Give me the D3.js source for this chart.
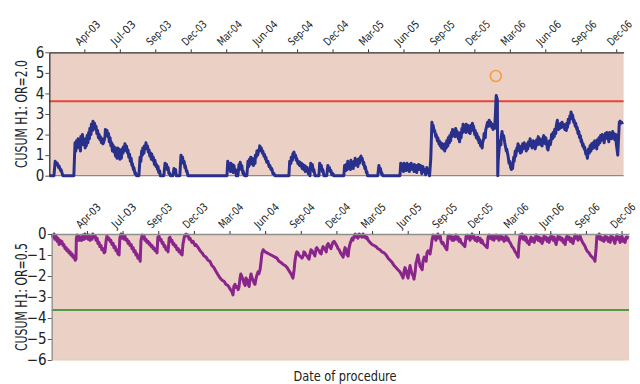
<!DOCTYPE html>
<html><head><meta charset="utf-8">
<script src="https://cdn.jsdelivr.net/npm/d3@7"></script>
<style>
html,body{margin:0;padding:0;background:#fff;}
svg{display:block;}
text{font-family:"Liberation Sans Narrow","Arial Narrow","DejaVu Sans Condensed",sans-serif;font-stretch:condensed;fill:#222;}
</style></head><body>
<svg id="chart" width="640" height="384"></svg>
<script>
// Procedure dates are stored as days since the first day of follow-up.
const studyStart = new Date(2003, 0, 1);
const studyEnd = new Date(2007, 0, 14);
const tickDates = ["2003-04-01","2003-07-01","2003-09-30","2003-12-30","2004-03-30","2004-06-29","2004-09-28","2004-12-28","2005-03-29","2005-06-28","2005-09-27","2005-12-27","2006-03-28","2006-06-27","2006-09-26","2006-12-26"];
const upperTicks = [0,1,2,3,4,5,6];
const lowerTicks = [-6,-5,-4,-3,-2,-1,0];
const upperLimit = 3.62;   // decision limit h for OR=2.0
const lowerLimit = -3.62;  // decision limit h for OR=0.5
const signalPoint = [1146, 4.85];

// CUSUM testing H1: OR=2.0 (day, cumulative score)
const cusumOR2 = [
[0,0],[12,0],[15,0.7],[18,0.55],[20,0.62],[24,0.4],[25,0.47],[29,0.25],[30,0.3],[34,0.05],[35,0],
[63,0],[66,1.6],[68,1.2],[70,1.7],[72,1.35],[74,1.8],[76,1.4],[78,1.6],[80,1.2],[81,1.9],[84,1.5],[85,2.0],[88,1.55],[89,1.8],[92,1.35],[93,1.8],[95,1.45],[97,1.95],[99,1.6],[101,2.1],[103,1.8],[104,2.3],[107,2.0],[108,2.5],[111,2.2],[112,2.65],[115,2.4],[116,2.55],[119,2.25],[120,2.4],[122,2.05],[124,2.2],[126,1.85],[128,2.0],[130,1.75],[131,1.9],[134,1.6],[135,1.8],[138,1.55],[140,1.65],[143,1.9],[144,2.25],[147,2.0],[148,2.2],[151,1.9],[152,2.05],[154,1.65],[156,1.85],[158,1.45],[160,1.6],[162,1.2],[163,1.5],[166,1.15],[167,1.4],[170,0.95],[171,1.3],[174,0.85],[175,1.35],[178,1.05],[179,1.3],[181,0.8],[183,1.2],[185,0.85],[187,1.3],[189,1.1],[190,1.4],[193,1.2],[194,1.55],[197,1.3],[198,1.45],[201,1.1],[202,1.25],[204,0.9],[206,1.05],[208,0.7],[210,0.85],[212,0.5],[213,0.6],[216,0.3],[217,0.4],[220,0.1],[221,0.15],[224,0],
[230,0],[233,0.9],[235,0.7],[237,1.2],[239,1.0],[240,1.35],[243,1.1],[244,1.45],[247,1.3],[248,1.6],[251,1.35],[252,1.45],[254,1.15],[256,1.25],[258,0.95],[260,1.1],[262,0.8],[263,1.05],[266,0.75],[267,0.9],[270,0.55],[271,0.75],[274,0.45],[275,0.55],[278,0.3],[279,0.45],[281,0.15],[283,0.25],[285,0],
[294,0],[297,0.6],[299,0.45],[301,0.55],[303,0.3],[305,0.4],[307,0.1],[308,0.15],[311,0],[317,0],[320,0.35],[322,0.15],[324,0.3],[326,0],
[335,0],[338,1.0],[340,0.8],[342,0.9],[344,0.6],[346,0.7],[348,0.4],[349,0.5],[352,0.2],[353,0.25],[356,0],
[456,0],[458,0.7],[461,0.45],[462,0.55],[465,0.2],[466,0.6],[469,0.3],[470,0.55],[472,0.15],[474,0.5],[476,0.2],[478,0.3],[480,0],
[484,0],[487,0.55],[489,0.3],[490,0.65],[493,0.35],[494,0.5],[497,0.1],[498,0.2],[501,0],
[507,0],[510,0.7],[512,0.45],[514,0.8],[516,0.55],[517,0.9],[520,0.6],[521,0.85],[524,0.5],[525,0.75],[528,0.6],[529,1.0],[531,0.9],[533,1.2],[535,1.0],[537,1.25],[539,1.2],[540,1.45],[543,1.3],[544,1.35],[547,1.1],[548,1.2],[551,0.95],[552,1.05],[555,0.8],[556,0.9],[558,0.65],[561,0.7],[564,0.45],[566,0.5],[569,0.3],[571,0.35],[574,0.1],[576,0.12],[579,0],
[615,0],[617,0.7],[620,0.6],[621,0.9],[624,0.75],[625,1.05],[628,1.15],[630,0.9],[632,1.0],[634,0.75],[635,0.85],[638,0.6],[639,0.7],[642,0.5],[643,0.65],[646,0.45],[647,0.6],[649,0.35],[651,0.55],[653,0.3],[655,0.5],[657,0.2],[658,0.45],[661,0.3],[662,0.4],[665,0.1],[666,0.25],[669,0],[671,0.6],[674,0.4],[675,0.55],[678,0.2],[679,0.3],[682,0],
[692,0],[694,0.6],[697,0.35],[698,0.5],[701,0.2],[702,0.3],[705,0],[712,0],[715,0.5],[717,0.35],[719,0.4],[721,0.2],[723,0.25],[725,0.05],[728,0.1],[730,0],
[756,0],[758,0.5],[761,0.25],[762,0.55],[765,0.3],[766,0.7],[769,0.45],[770,0.6],[773,0.3],[774,0.75],[776,0.45],[778,0.6],[780,0.35],[782,0.7],[784,0.5],[785,0.85],[788,0.6],[789,0.7],[792,0.45],[793,0.8],[796,0.6],[797,0.85],[800,0.95],[802,0.75],[803,0.85],[806,0.55],[807,0.65],[810,0.35],[811,0.45],[814,0.15],[815,0.2],[817,0],
[843,0],[846,0.5],[848,0.3],[850,0.35],[852,0.1],[853,0.15],[856,0],
[900,0],[902,0.6],[905,0.3],[906,0.5],[909,0.2],[910,0.6],[912,0.35],[914,0.55],[916,0.25],[918,0.6],[920,0.4],[921,0.5],[924,0.2],[925,0.55],[928,0.3],[929,0.6],[932,0.4],[933,0.5],[936,0.2],[937,0.55],[939,0.3],[941,0.45],[943,0.15],[944,0.5],[947,0.3],[948,0.55],[951,0.3],[953,0.5],[956,0.1],[959,0.45],[961,0.2],[964,0.3],[966,0.05],[969,0.4],[971,0.15],[974,0.25],[976,0],
[979,0.8],[982,2.6],[984,2.35],[985,2.45],[988,2.15],[989,2.2],[992,1.9],[993,2.0],[996,1.7],[997,1.85],[1000,1.55],[1001,1.7],[1003,1.45],[1005,1.6],[1007,1.35],[1009,1.55],[1011,1.3],[1012,1.5],[1015,1.2],[1016,1.55],[1019,1.35],[1020,1.7],[1023,1.45],[1024,1.85],[1027,1.6],[1028,1.95],[1030,1.7],[1032,2.1],[1034,1.9],[1035,2.25],[1038,2.0],[1039,2.2],[1042,1.9],[1043,2.3],[1046,2.05],[1047,2.15],[1050,1.8],[1051,1.95],[1053,1.65],[1055,2.1],[1057,1.85],[1059,2.3],[1061,2.1],[1062,2.5],[1065,2.2],[1066,2.4],[1069,2.1],[1070,2.5],[1073,2.3],[1074,2.45],[1077,2.1],[1078,2.3],[1080,2.05],[1082,2.45],[1084,2.2],[1086,2.55],[1088,2.3],[1089,2.4],[1092,2.0],[1093,2.2],[1096,1.85],[1097,2.05],[1100,1.75],[1101,1.9],[1103,1.6],[1105,1.75],[1107,1.45],[1109,1.55],[1111,1.35],[1112,1.6],[1115,1.8],[1116,2.05],[1119,1.85],[1120,2.2],[1123,2.45],[1125,2.6],[1128,2.4],[1129,2.7],[1132,2.5],[1133,2.6],[1136,2.35],[1137,2.5],[1139,2.25],[1141,2.4],[1143,2.3],[1145,3.0],[1146,3.5],[1147,3.9],[1150,3.7],
[1151,0],[1152,0.7],[1155,1.4],[1156,1.7],[1159,1.5],[1160,1.9],[1162,2.15],[1164,1.85],[1166,1.95],[1169,1.6],[1170,1.5],[1173,1.2],[1174,1.3],[1177,1.0],[1178,0.9],[1180,0.6],[1182,0.7],[1184,0.4],[1186,0.3],[1188,0.5],[1189,0.35],[1192,0.9],[1193,0.7],[1196,1.2],[1197,0.95],[1200,1.35],[1201,1.2],[1203,1.55],[1205,1.3],[1207,1.45],[1209,1.1],[1211,1.4],[1212,1.15],[1215,1.55],[1216,1.3],[1219,1.6],[1220,1.35],[1223,1.5],[1224,1.2],[1227,1.55],[1228,1.3],[1230,1.65],[1232,1.45],[1234,1.8],[1236,1.5],[1238,1.6],[1239,1.35],[1242,1.7],[1243,1.45],[1246,1.65],[1247,1.3],[1250,1.55],[1251,1.75],[1253,1.5],[1255,1.9],[1257,1.6],[1259,1.8],[1261,1.5],[1262,1.7],[1265,1.45],[1266,1.75],[1269,1.95],[1270,1.7],[1273,1.55],[1274,1.85],[1277,1.6],[1278,1.35],[1280,1.25],[1282,1.5],[1284,1.7],[1286,1.5],[1288,1.75],[1289,2.0],[1292,1.8],[1293,2.1],[1296,1.9],[1297,2.25],[1300,2.05],[1301,2.4],[1304,2.7],[1305,2.4],[1307,2.25],[1309,2.5],[1311,2.3],[1313,2.55],[1315,2.35],[1316,2.6],[1319,2.4],[1320,2.5],[1323,2.25],[1324,2.45],[1327,2.2],[1328,2.55],[1330,2.35],[1332,2.75],[1334,2.55],[1336,2.9],[1338,2.75],[1339,3.1],[1342,2.85],[1343,2.95],[1346,2.6],[1347,2.7],[1350,2.4],[1351,2.55],[1354,2.25],[1355,2.35],[1357,2.05],[1359,2.15],[1361,1.85],[1363,1.95],[1365,1.65],[1366,1.75],[1369,1.45],[1370,1.55],[1373,1.3],[1374,1.4],[1377,1.05],[1378,1.2],[1381,0.85],[1382,1.0],[1384,1.3],[1386,1.1],[1388,1.45],[1390,1.2],[1392,1.55],[1393,1.3],[1396,1.6],[1397,1.35],[1400,1.7],[1401,1.45],[1404,1.55],[1405,1.3],[1407,1.75],[1409,1.5],[1411,1.85],[1413,1.6],[1415,1.95],[1416,1.7],[1419,2.0],[1420,1.75],[1423,1.9],[1424,1.6],[1427,2.05],[1428,1.8],[1431,2.1],[1432,1.85],[1434,1.95],[1436,1.65],[1438,2.1],[1440,1.85],[1442,2.05],[1443,1.8],[1446,2.15],[1447,1.9],[1450,2.05],[1451,1.75],[1454,2.0],[1455,1.6],[1457,1.3],[1459,1.0],[1461,1.8],[1463,2.6],[1465,2.65],[1466,2.55],[1469,2.6],[1471,2.5]
];

// CUSUM testing H1: OR=0.5 (day, cumulative score)
const cusumOR05 = [
[1,0],[3,-0.15],[6,0],[8,-0.25],[11,-0.1],[14,-0.35],[16,-0.2],[19,-0.5],[21,-0.3],[24,-0.45],[26,-0.35],[29,-0.55],[31,-0.5],[34,-0.7],[37,-0.65],[39,-0.8],[42,-0.75],[44,-0.9],[47,-0.85],[49,-1.0],[52,-0.95],[54,-1.1],[57,-1.05],[60,-1.25],[62,-1.2],
[63,-0.2],[65,-0.05],[67,-0.3],[70,-0.1],[72,-0.3],[75,-0.15],[77,-0.3],[80,-0.05],[83,-0.25],[85,0],[88,-0.2],[90,-0.1],[93,-0.25],[95,-0.05],[98,-0.3],[100,-0.15],[103,-0.25],[105,0],[108,-0.15],[111,-0.1],[113,-0.3],[116,-0.2],[118,-0.45],[121,-0.4],[123,-0.6],[126,-0.55],[128,-0.75],[131,-0.7],[134,-0.9],[136,-0.85],
[139,-0.3],[141,-0.1],[144,-0.25],[146,-0.2],[149,-0.35],[151,-0.3],[154,-0.5],[157,-0.45],[159,-0.65],[162,-0.6],[164,-0.8],[167,-0.75],[169,-0.95],[172,-1.0],
[174,-0.2],[177,0],[180,-0.2],[182,-0.05],[185,-0.25],[187,-0.1],[190,-0.3],[192,-0.25],[195,-0.45],[197,-0.35],[200,-0.55],[203,-0.5],[205,-0.7],[208,-0.65],[210,-0.85],[213,-0.8],[215,-1.0],[218,-0.95],[220,-1.15],[223,-1.1],[226,-1.3],
[228,-0.3],[231,-0.05],[233,-0.2],[236,-0.1],[238,-0.3],[241,-0.25],[243,-0.4],[246,-0.35],[249,-0.5],[251,-0.45],[254,-0.6],[256,-0.55],[259,-0.7],[261,-0.65],[264,-0.8],[266,-0.75],[269,-0.9],
[271,-0.15],[274,-0.1],[277,-0.3],[279,-0.25],[282,-0.45],[284,-0.4],[287,-0.6],[289,-0.55],[292,-0.75],[294,-0.7],[297,-0.85],
[300,-0.2],[302,-0.15],[305,-0.35],[307,-0.3],[310,-0.5],[312,-0.45],[315,-0.6],[317,-0.55],[320,-0.75],[323,-0.7],[325,-0.85],[328,-0.8],[330,-0.95],[333,-1.0],
[335,-0.5],[338,-0.2],[340,-0.05],[343,0],[346,-0.1],[348,-0.05],[351,-0.25],[353,-0.2],[358,-0.4],[361,-0.35],[366,-0.55],[368,-0.5],[374,-0.65],[379,-0.8],[384,-0.9],[389,-1.05],[394,-1.1],[399,-1.25],[404,-1.3],[409,-1.5],[414,-1.6],[420,-1.8],[425,-1.95],[430,-2.1],[435,-2.2],[440,-2.25],[445,-2.4],[450,-2.45],[455,-2.6],[460,-2.75],[463,-2.9],
[465,-2.5],[468,-2.4],[471,-2.55],[473,-2.5],[476,-2.65],[478,-2.55],[481,-2.1],[483,-1.9],[486,-2.05],[489,-2.2],[491,-2.35],[494,-2.45],[496,-2.1],[499,-2.2],[501,-2.35],[504,-2.5],[506,-2.2],[509,-1.9],[511,-2.05],[514,-2.2],[517,-2.35],[519,-2.4],[522,-2.1],[524,-1.95],[527,-1.8],[529,-1.9],[532,-1.7],[534,-1.4],[537,-0.9],
[540,-0.75],[542,-0.8],[545,-0.85],[550,-0.9],[555,-0.95],[560,-1.0],[565,-1.05],[570,-1.1],[575,-1.15],[580,-1.3],[585,-1.35],[591,-1.45],[596,-1.5],[601,-1.6],[606,-1.75],[611,-1.9],[616,-2.1],
[619,-1.7],[621,-1.3],[624,-0.95],[626,-0.85],[629,-0.9],[631,-1.0],[634,-1.05],[637,-1.1],[639,-1.15],[642,-1.05],[644,-0.85],[647,-0.9],[649,-1.0],[652,-1.05],[655,-1.15],[657,-1.2],[660,-0.9],[662,-0.75],[665,-0.8],[667,-0.9],[670,-0.95],[672,-1.05],[675,-0.7],[677,-0.65],[680,-0.75],[683,-0.8],[685,-0.9],[688,-0.95],[690,-0.75],[693,-0.6],[695,-0.65],[698,-0.75],[701,-0.85],[703,-0.55],[706,-0.45],[708,-0.55],[711,-0.65],[713,-0.7],[716,-0.5],[718,-0.4],[721,-0.35],[723,-0.4],[726,-0.5],[729,-0.6],[731,-0.7],[734,-0.75],[736,-0.85],[739,-0.95],[741,-1.0],[744,-1.1],[747,-0.8],[749,-0.65],[752,-0.75],[754,-1.0],[757,-1.05],[759,-0.7],[762,-0.45],[764,-0.35],[767,-0.2],[769,-0.3],[772,-0.1],[775,0],[777,-0.15],[780,-0.05],[782,-0.2],[785,0],[787,-0.1],[790,-0.05],[792,-0.15],[795,0],[798,-0.15],[800,-0.1],[803,-0.2],[805,-0.15],[808,-0.3],
[813,-0.4],[818,-0.5],[823,-0.55],[828,-0.6],[833,-0.7],[838,-0.75],[843,-0.85],[849,-0.9],[854,-1.0],[859,-1.15],[864,-1.25],[869,-1.35],[874,-1.5],[879,-1.6],[884,-1.7],[889,-1.8],[895,-2.0],[897,-2.1],
[900,-1.75],[902,-1.6],[905,-1.75],[907,-1.95],[910,-2.1],[912,-1.8],[915,-1.5],[917,-1.7],[920,-1.9],[923,-2.0],[925,-2.15],[928,-1.8],[930,-1.4],[933,-1.2],[935,-1.0],[938,-1.3],[941,-1.55],[943,-1.6],[946,-1.7],[948,-1.3],[951,-1.1],[953,-1.2],[956,-1.3],[958,-0.9],[961,-0.8],[963,-0.85],[966,-0.95],[969,-0.6],[971,-0.3],
[974,-0.05],[976,-0.2],[979,-0.1],[981,-0.3],[984,-0.15],[986,0],[989,-0.2],[992,-0.1],[994,-0.35],[997,-0.45],[999,-0.4],[1002,-0.55],[1004,-0.6],[1007,-0.7],[1009,-0.75],[1012,-0.1],[1015,-0.05],[1017,-0.2],[1020,-0.1],[1022,-0.3],[1025,-0.15],[1027,-0.3],[1030,-0.2],[1032,-0.05],[1035,-0.25],[1038,-0.15],[1040,-0.35],[1043,-0.25],[1045,-0.4],[1048,-0.45],[1050,-0.5],[1053,-0.55],[1055,-0.6],
[1058,-0.1],[1061,-0.05],[1063,-0.2],[1066,-0.1],[1068,-0.3],[1071,-0.15],[1073,0],[1076,-0.2],[1078,-0.1],[1081,-0.3],[1083,-0.2],[1086,-0.35],[1088,-0.15],[1091,-0.3],[1094,-0.2],[1096,-0.4],[1099,-0.3],[1101,-0.45],[1104,-0.5],[1107,-0.55],[1109,-0.6],[1112,-0.65],
[1114,-0.15],[1117,-0.05],[1119,-0.2],[1122,-0.1],[1124,-0.25],[1127,-0.1],[1129,-0.3],[1132,-0.15],[1135,-0.05],[1137,-0.2],[1140,-0.1],[1142,-0.3],[1145,-0.2],[1147,-0.1],[1150,-0.25],[1152,-0.15],[1155,-0.35],[1158,-0.25],[1160,-0.1],[1163,-0.3],[1165,-0.2],[1168,-0.35],[1170,-0.4],[1173,-0.5],[1175,-0.6],[1178,-0.65],[1181,-0.75],[1183,-0.85],[1186,-0.9],[1188,-1.0],[1191,-1.1],
[1193,-0.5],[1196,-0.05],[1198,-0.2],[1201,0],[1204,-0.25],[1206,-0.1],[1209,-0.3],[1211,-0.15],[1214,-0.4],[1216,-0.35],[1219,-0.5],[1221,-0.3],[1224,-0.15],[1226,-0.35],[1229,-0.2],[1232,-0.4],[1234,-0.25],[1237,-0.05],[1239,-0.2],[1242,-0.3],[1244,-0.15],[1247,-0.35],[1249,-0.2],[1252,-0.45],[1255,-0.3],[1257,-0.1],[1260,-0.25],[1262,-0.15],[1265,-0.35],[1267,-0.2],[1270,-0.4],[1272,-0.25],[1275,-0.05],[1278,-0.2],[1280,-0.3],[1283,-0.15],[1285,-0.35],[1288,-0.5],[1290,-0.3],[1293,-0.1],[1295,-0.25],[1298,-0.15],[1301,-0.3],[1303,-0.2],[1306,-0.4],[1308,-0.3],[1311,-0.5],[1313,-0.2],[1316,-0.1],[1318,-0.25],[1321,-0.15],[1324,-0.35],[1326,-0.2],[1329,-0.4],[1331,-0.45],[1334,-0.2],[1336,-0.05],[1339,-0.2],[1341,-0.1],[1344,-0.3],[1346,-0.2],[1349,-0.1],[1352,-0.25],
[1354,-0.35],[1357,-0.45],[1359,-0.5],[1362,-0.6],[1364,-0.7],[1367,-0.8],[1369,-0.85],[1372,-0.9],[1375,-1.0],[1377,-1.05],[1380,-1.1],[1382,-1.15],[1385,-1.2],[1387,-1.3],[1390,-0.7],
[1392,-0.1],[1395,-0.2],[1398,0],[1400,-0.25],[1403,-0.15],[1405,-0.3],[1408,-0.2],[1410,-0.35],[1413,-0.1],[1415,-0.25],[1418,-0.15],[1421,-0.35],[1423,-0.2],[1426,-0.4],[1428,-0.1],[1431,-0.25],[1433,-0.15],[1436,-0.35],[1438,-0.45],[1441,-0.2],[1443,-0.05],[1446,-0.25],[1449,-0.15],[1451,-0.4],[1454,-0.3],[1456,-0.1],[1459,-0.35],[1461,-0.25],[1464,-0.4],[1467,-0.15],[1469,-0.2],[1472,-0.1]
];

const svg = d3.select("#chart");
const toDate = d => d3.timeDay.offset(studyStart, d);
const parseDay = d3.timeParse("%Y-%m-%d");
const fmtTick = d3.timeFormat("%b-%y");
const ticks = tickDates.map(parseDay);
const PLOT_BG = "#ebd1c5";

const panels = [
  { data: cusumOR2, domain: [0, 6], yTicks: upperTicks, left: 49.3, right: 623.6, top: 52.3, bottom: 175.7,
    limit: upperLimit, limitColor: "#e5443a", lineColor: "#29308c", title: "CUSUM H1: OR=2.0",
    topAxisColor: "#333", leftAxisColor: "#333", zeroColor: "#8a8a8a", labelShift: "translate(-5,-6)" },
  { data: cusumOR05, domain: [-6, 0], yTicks: lowerTicks, left: 51.7, right: 629, top: 234, bottom: 360,
    limit: lowerLimit, limitColor: "#4f9a42", lineColor: "#8a258c", title: "CUSUM H1: OR=0.5",
    topAxisColor: "#8f8f8f", leftAxisColor: "#8f8f8f", zeroColor: null, labelShift: "translate(-7,-5)" }
];

panels.forEach((p, i) => {
  const x = d3.scaleTime().domain([studyStart, studyEnd]).range([p.left, p.right]);
  const y = d3.scaleLinear().domain(p.domain).range([p.bottom, p.top]);
  const g = svg.append("g");

  g.append("rect").attr("x", p.left).attr("y", p.top)
    .attr("width", p.right - p.left).attr("height", p.bottom - p.top)
    .attr("fill", PLOT_BG);

  if (p.zeroColor) {
    g.append("line").attr("x1", p.left).attr("x2", p.right)
      .attr("y1", y(0)).attr("y2", y(0))
      .attr("stroke", p.zeroColor).attr("stroke-width", 1.2);
  } else {
    g.append("line").attr("x1", p.left).attr("x2", p.right)
      .attr("y1", p.bottom).attr("y2", p.bottom)
      .attr("stroke", "#f0c8a8").attr("stroke-width", 1);
  }

  // decision limit
  g.append("line").attr("x1", p.left).attr("x2", p.right)
    .attr("y1", y(p.limit)).attr("y2", y(p.limit))
    .attr("stroke", p.limitColor).attr("stroke-width", 1.8);

  // CUSUM path
  const line = d3.line().x(d => x(toDate(d[0]))).y(d => y(d[1]));
  g.append("path").datum(p.data).attr("d", line)
    .attr("fill", "none").attr("stroke", p.lineColor)
    .attr("stroke-width", 3).attr("stroke-linejoin", "round");

  // date axis along the top edge
  const xAxis = d3.axisTop(x).tickValues(ticks).tickFormat(fmtTick).tickSize(3).tickSizeOuter(0);
  const ax = g.append("g").attr("transform", `translate(0,${p.top})`).call(xAxis);
  ax.select(".domain").attr("stroke", p.topAxisColor).attr("stroke-width", 1.3);
  ax.selectAll(".tick line").attr("stroke", "#333");
  ax.selectAll(".tick text")
    .attr("x", 0).attr("y", 0).attr("dy", 0)
    .attr("transform", `${p.labelShift} rotate(-45)`)
    .attr("textLength", 30).attr("lengthAdjust", "spacingAndGlyphs")
    .style("text-anchor", "start").style("font-size", "11px").attr("fill", "#222");

  // score axis on the left
  const yAxis = d3.axisLeft(y).tickValues(p.yTicks).tickFormat(d3.format("d")).tickSize(4).tickSizeOuter(0);
  const ay = g.append("g").attr("transform", `translate(${p.left},0)`).call(yAxis);
  ay.select(".domain").attr("stroke", p.leftAxisColor).attr("stroke-width", 1.3);
  ay.selectAll(".tick line").attr("stroke", "#555");
  ay.selectAll(".tick text").attr("x", -5).style("font-size", "15px").attr("fill", "#222");

  g.append("text")
    .attr("transform", `translate(27,${(p.top + p.bottom) / 2}) rotate(-90)`)
    .attr("text-anchor", "middle").style("font-size", "15px")
    .attr("textLength", 108).attr("lengthAdjust", "spacingAndGlyphs")
    .text(p.title);

  if (i === 0) {
    g.append("circle").attr("cx", x(toDate(signalPoint[0]))).attr("cy", y(signalPoint[1]))
      .attr("r", 5.5).attr("fill", "none").attr("stroke", "#f2a044").attr("stroke-width", 1.6);
  }
});

svg.append("text").attr("x", 345).attr("y", 381).attr("text-anchor", "middle")
  .style("font-size", "14px").attr("textLength", 103).attr("lengthAdjust", "spacingAndGlyphs")
  .text("Date of procedure");
</script>
</body></html>
